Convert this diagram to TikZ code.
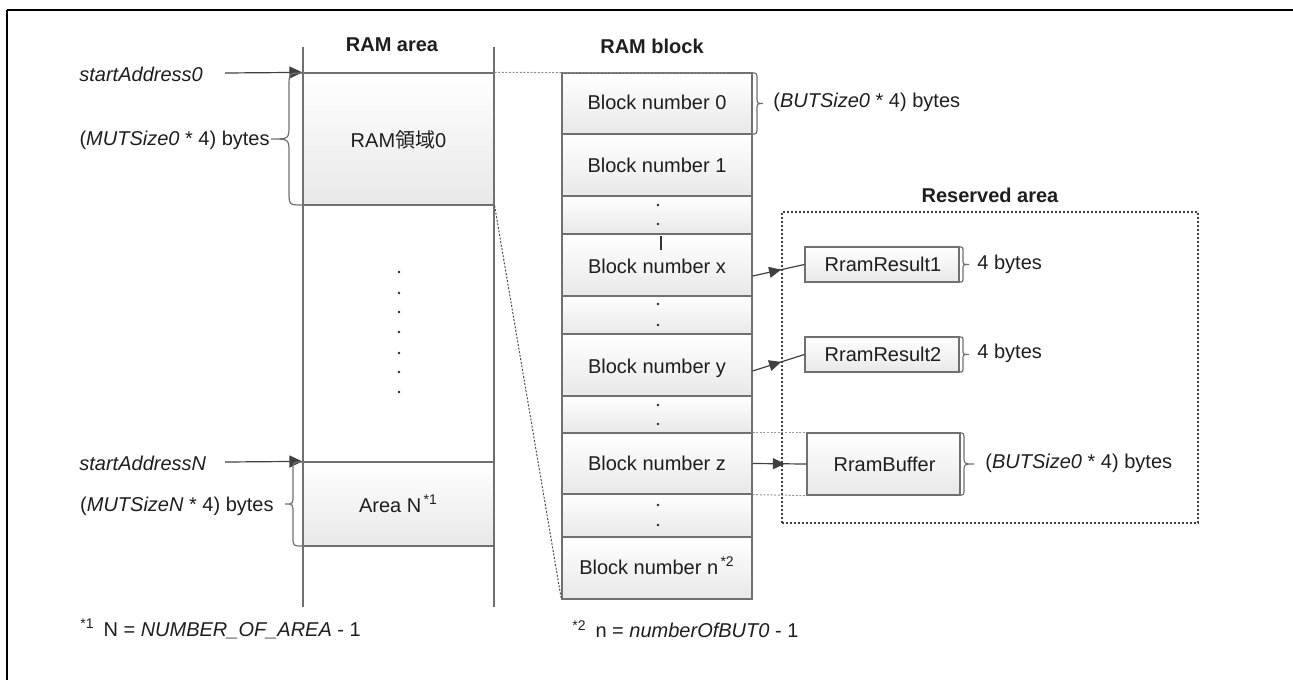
\documentclass[tikz,border=0pt]{standalone}
\usepackage{fontspec}
\setmainfont{Liberation Sans}
\newfontfamily\cjk{Noto Sans CJK JP}
\usetikzlibrary{fit,arrows.meta,decorations.markings}
\definecolor{ln}{HTML}{707070}
\definecolor{tx}{HTML}{1E1E1E}
\tikzset{
 bx/.style={draw=ln, line width=0.6pt, top color=white, bottom color=black!9, inner sep=0pt},
 vline/.style={draw=ln, line width=0.7pt},
 conn/.style={draw=black!75, line width=0.6pt},
 tipend/.style={-{Triangle[length=6.5pt,width=6pt]}},
 marrow/.style={postaction={decorate}, decoration={markings, mark=at position #1 with {\arrow{Triangle[length=6pt,width=5.5pt]}}}},
 lbl/.style={inner sep=0pt, text=tx, font=\fontsize{10}{12}\selectfont},
 inbox/.style={inner sep=0pt, text=tx, font=\fontsize{10}{12}\selectfont, text height=7.2pt, text depth=0pt},
 ttl/.style={inner sep=0pt, text=tx, font=\fontsize{10}{12}\selectfont\bfseries},
 brc/.style={draw=ln, line width=0.6pt},
 thin dot/.style={draw=black!70, line width=0.5pt, dash pattern=on 1pt off 0.8pt},
}
\newcommand\mybrc[6]{%
 \pgfmathsetmacro\bmid{(#2+#3)/2}%
 \draw[brc] (#1,#2) .. controls (#4,#2) .. (#4,{#2+#6}) -- (#4,{\bmid-#6}) .. controls (#4,\bmid) .. (#5,\bmid) .. controls (#4,\bmid) .. (#4,{\bmid+#6}) -- (#4,{#3-#6}) .. controls (#4,#3) .. (#1,#3);}
\newcommand\dt[2]{\fill[black!85] (#1,#2) circle (0.65pt);}
\begin{document}
\begin{tikzpicture}[x=0.5pt,y=-0.5pt]
\useasboundingbox (0,0) rectangle (1293,680);
% frame
\draw[black, line width=1.1pt] (7,10) -- (7,680);
\draw[black, line width=0.6pt] (7,10) -- (1293,10);
\draw[black, line width=1.1pt] (7,10) -- (22,10);
\draw[black, line width=1.1pt] (1237,10) -- (1293,10);

% titles
\node[ttl] (t1) at (392,45) {RAM area};
\node[ttl] (t2) at (652,46) {RAM block};
\node[ttl] (t3) at (990,195) {Reserved area};

% RAM area boxes
\node[bx, fit={(303,73) (494,205)}] (area0) {};
\node[bx, fit={(303,462) (494,546)}] (areaN) {};
\node[inbox] (area0t) at ([yshift=-0.75pt]area0.center) {RAM{\cjk 領域}0};
\node[inbox] (areaNt) at ([yshift=-0.5pt]areaN.center) {Area N\textsuperscript{\,*1}};
\draw[vline] (303,47) -- (303,607);
\draw[vline] (494,47) -- (494,607);

% dots in RAM area
\foreach \yy in {272,293,312,332,353,372,392} {\dt{399}{\yy}}

% left labels
\node[lbl, anchor=west, font=\fontsize{10}{12}\selectfont\itshape] (sa0) at (79,74) {startAddress0};
\node[lbl, anchor=west, font=\fontsize{10}{12}\selectfont\itshape] (saN) at (79,463) {startAddressN};
\coordinate (s0) at (225,73);
\coordinate (sN) at (225,462);
\draw[conn, tipend] (s0) -- (area0.north west);
\draw[conn, tipend] (sN) -- (areaN.north west);
\node[lbl, anchor=east] (mut0) at (270,140) {(\textit{MUTSize0} * 4) bytes};
\node[lbl, anchor=east] (mutN) at (274,506) {(\textit{MUTSizeN} * 4) bytes};
\mybrc{303}{73}{205}{289}{271}{14}
\mybrc{303}{462}{546}{293}{285}{9}

% RAM block column
\node[bx, fit={(562,73) (752,134)}] (b0) {};
\node[bx, fit={(562,134) (752,196)}] (b1) {};
\node[bx, fit={(562,196) (752,234)}] (d1) {};
\node[bx, fit={(562,234) (752,296)}] (bx) {};
\node[bx, fit={(562,296) (752,334)}] (d2) {};
\node[bx, fit={(562,334) (752,396)}] (by) {};
\node[bx, fit={(562,396) (752,433)}] (d3) {};
\node[bx, fit={(562,433) (752,494)}] (bz) {};
\node[bx, fit={(562,494) (752,537)}] (d4) {};
\node[bx, fit={(562,537) (752,599)}] (bn) {};
\node[inbox] (b0t) at ([yshift=0.5pt]b0.center) {Block number 0};
\node[inbox] (b1t) at (b1.center) {Block number 1};
\node[inbox] (bxt) at ([yshift=-0.5pt]bx.center) {Block number x};
\node[inbox] (byt) at ([yshift=-0.5pt]by.center) {Block number y};
\node[inbox] (bzt) at (bz.center) {Block number z};
\node[inbox] (bnt) at ([yshift=0.5pt]bn.center) {Block number n\textsuperscript{\,*2}};
\foreach \yy in {205,224,304,325,405,424,505,525} {\dt{658}{\yy}}
\draw[black!80, line width=0.6pt] (661,236) -- (661,250);

% dotted / dashed zoom lines
\draw[thin dot, draw=black!45] (area0.north east) -- (727,73);
\draw[thin dot] (area0.south east) -- (bn.south west);

\node[lbl, anchor=west] (but0) at (773,102) {(\textit{BUTSize0} * 4) bytes};
\mybrc{752}{73}{134}{757}{763}{7}

% reserved area
\node[draw=black!75, line width=0.6pt, dash pattern=on 1.2pt off 0.8pt, inner sep=0pt, fit={(782,212) (1198,523)}] (res) {};
\node[bx, fit={(805,247) (959,282)}] (rr1) {};
\node[bx, fit={(805,337) (959,372)}] (rr2) {};
\node[bx, fit={(807,433) (960,495)}] (rbuf) {};
\node[inbox] (rr1t) at ([xshift=0.5pt]rr1.center) {RramResult1};
\node[inbox] (rr2t) at ([xshift=0.5pt]rr2.center) {RramResult2};
\node[inbox] (rbuft) at ([xshift=0.5pt]rbuf.center) {RramBuffer};
\mybrc{959}{247}{282}{963}{969}{5}
\mybrc{959}{337}{372}{963}{969}{5}
\mybrc{960}{433}{495}{964}{974}{8}
\node[lbl, anchor=west] (fb1) at (977,264) {4 bytes};
\node[lbl, anchor=west] (fb2) at (977,353) {4 bytes};
\node[lbl, anchor=west] (bb) at (985,463) {(\textit{BUTSize0} * 4) bytes};

\draw[thin dot, draw=black!40] (bz.north east) -- (rbuf.north west);
\draw[thin dot, draw=black!40] (bz.south east) -- (rbuf.south west);

% connectors
\draw[conn, marrow=0.55] ([yshift=-5.5pt]bx.east) -- (rr1.west);
\draw[conn, marrow=0.55] ([yshift=-3pt]by.east) -- (rr2.west);
\draw[conn, marrow=0.6] (bz.east) -- (rbuf.west);

% footnotes
\node[lbl, anchor=west] (fn1) at (80,629) {\textsuperscript{*1}\, N = \textit{NUMBER\_OF\_AREA} - 1};
\node[lbl, anchor=west] (fn2) at (572,629) {\textsuperscript{*2}\, n = \textit{numberOfBUT0} - 1};
\end{tikzpicture}
\end{document}
